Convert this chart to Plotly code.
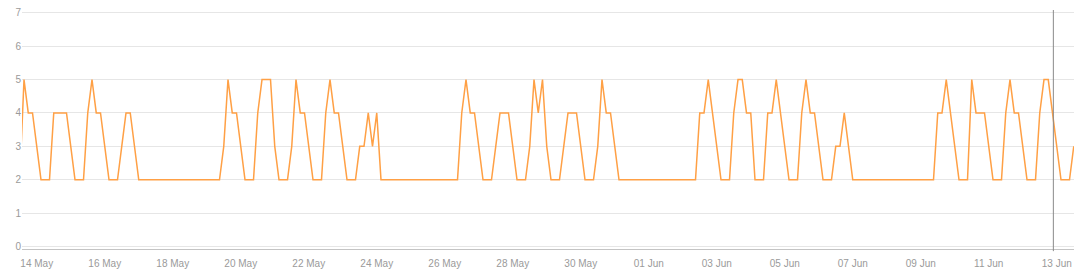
import pandas as pd
import plotly.graph_objects as go

# 3-hourly samples starting 13 May 12:00 (first point lies just left of the visible range)
start_time = "2024-05-13 12:00"
step_hours = 3
values = [
    2,
    5, 4, 4, 3, 2, 2, 2, 4, 4, 4, 4, 3, 2, 2, 2, 4, 5, 4, 4, 3,
    2, 2, 2, 3, 4, 4, 3,
    2, 2, 2, 2, 2, 2, 2, 2, 2, 2, 2, 2, 2, 2, 2, 2, 2, 2, 2, 2,
    3, 5, 4, 4, 3, 2, 2, 2, 4, 5, 5, 5, 3, 2, 2, 2, 3, 5, 4, 4, 3,
    2, 2, 2, 4, 5, 4, 4, 3, 2, 2, 2, 3, 3, 4, 3, 4,
    2, 2, 2, 2, 2, 2, 2, 2, 2, 2, 2, 2, 2, 2, 2, 2, 2, 2, 2,
    4, 5, 4, 4, 3, 2, 2, 2, 3, 4, 4, 4, 3, 2, 2, 2, 3, 5, 4, 5, 3,
    2, 2, 2, 3, 4, 4, 4, 3, 2, 2, 2, 3, 5, 4, 4, 3,
    2, 2, 2, 2, 2, 2, 2, 2, 2, 2, 2, 2, 2, 2, 2, 2, 2, 2, 2,
    4, 4, 5, 4, 3, 2, 2, 2, 4, 5, 5, 4, 4, 2, 2, 2, 4, 4, 5, 4, 3,
    2, 2, 2, 4, 5, 4, 4, 3, 2, 2, 2, 3, 3, 4, 3,
    2, 2, 2, 2, 2, 2, 2, 2, 2, 2, 2, 2, 2, 2, 2, 2, 2, 2, 2, 2,
    4, 4, 5, 4, 3, 2, 2, 2, 5, 4, 4, 4, 3, 2, 2, 2, 4, 5, 4, 4, 3,
    2, 2, 2, 4, 5, 5, 4, 3, 2, 2, 2, 3,
]
times = pd.date_range(start=start_time, periods=len(values), freq=f"{step_hours}h")
marker_time = "2024-06-12 21:36"
y_ticks = [0, 1, 2, 3, 4, 5, 6, 7]

t_first = times[1]
x_left = t_first - pd.Timedelta(hours=step_hours * 0.471)
x_right = times[-1] + pd.Timedelta(hours=step_hours * 0.06)

fig = go.Figure()
fig.add_trace(go.Scatter(
    x=times, y=values, mode="lines",
    line=dict(color="#FFA045", width=1.5),
    hoverinfo="skip", showlegend=False,
))

fig.add_shape(type="line", xref="x", yref="paper",
              x0=marker_time, x1=marker_time, y0=-0.009, y1=1,
              line=dict(color="#8a8a8a", width=1))

font_family = "Liberation Sans, Arial, sans-serif"
fig.update_layout(
    width=1080, height=280,
    margin=dict(l=22, r=6, t=10, b=31),
    paper_bgcolor="white", plot_bgcolor="white",
    font=dict(family=font_family, size=10, color="#9a9a9a"),
    xaxis=dict(
        type="date", range=[x_left, x_right],
        tick0="2024-05-14", dtick=2 * 86400000, tickformat="%d %b",
        showgrid=False, zeroline=False,
        showline=True, linecolor="#c4c4c4", linewidth=1,
        ticks="", ticklabelstandoff=5,
        tickfont=dict(size=10, color="#9a9a9a"),
        fixedrange=True,
    ),
    yaxis=dict(
        range=[-0.075, 7.084], tickvals=y_ticks,
        showgrid=True, gridcolor="#e6e6e6", gridwidth=1,
        zeroline=False, showline=False, ticks="",
        tickfont=dict(size=10, color="#9a9a9a"),
        fixedrange=True,
    ),
)

fig.write_html("out.html")
